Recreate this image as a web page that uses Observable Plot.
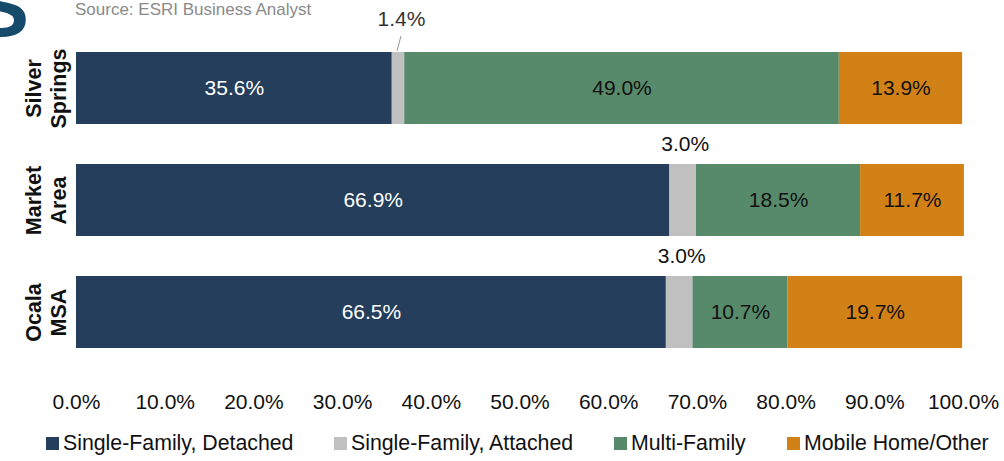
<!DOCTYPE html>
<html>
<head>
<meta charset="utf-8">
<script src="https://cdn.jsdelivr.net/npm/d3@7"></script>
<script src="https://cdn.jsdelivr.net/npm/@observablehq/plot@0.6"></script>
<style>
  html, body { margin: 0; padding: 0; background: #fff; }
  #wrap { position: relative; width: 1004px; height: 461px; overflow: hidden; font-family: "Liberation Sans", Arial, sans-serif; }
  #bigS { position: absolute; left: -27px; top: -35px; font-size: 84px; font-weight: bold; color: #154a6b; line-height: 1; }
  #source { position: absolute; left: 75px; top: 0px; font-size: 17px; color: #8a8a8a; line-height: 20px; }
  #legend { position: relative; height: 36px; font-size: 21.3px; color: #111; }
  .item { position: absolute; top: 0; height: 36px; display: flex; align-items: center; white-space: nowrap; }
  .item:nth-child(1) { left: 46px; }
  .item:nth-child(2) { left: 334px; }
  .item:nth-child(3) { left: 614px; }
  .item:nth-child(4) { left: 787px; }
  .sw { width: 13px; height: 13px; margin-right: 4px; display: inline-block; }
</style>
</head>
<body>
<div id="wrap">
  <div id="chart"></div>
  <div id="legend"></div>
  <div id="bigS">S</div>
  <div id="source">Source: ESRI Business Analyst</div>
</div>
<script>
// ---- Data ----
const categories = ["Silver Springs", "Market Area", "Ocala MSA"];
const categoryLabels = ["Silver\nSprings", "Market\nArea", "Ocala\nMSA"];
const types = ["Single-Family, Detached", "Single-Family, Attached", "Multi-Family", "Mobile Home/Other"];
const colors = ["#243e5b", "#c0c0c0", "#57896b", "#d18116"];
const detached = [35.6, 66.9, 66.5];
const attached = [1.4, 3.0, 3.0];
const multiFamily = [49.0, 18.5, 10.7];
const mobileOther = [13.9, 11.7, 19.7];
const xTicks = [0, 10, 20, 30, 40, 50, 60, 70, 80, 90, 100];

const series = [detached, attached, multiFamily, mobileOther];
const data = [];
categories.forEach((c, i) => {
  types.forEach((t, j) => data.push({cat: c, type: t, value: series[j][i]}));
});
const fmt = v => v.toFixed(1) + "%";
const labelOf = Object.fromEntries(categories.map((c, i) => [c, categoryLabels[i]]));

const stackOpts = (text) => Plot.stackX({x: "value", y: "cat", z: "type", order: types, text});

const plot = Plot.plot({
  width: 1004,
  height: 425,
  marginLeft: 76,
  marginRight: 41,
  marginTop: 40,
  marginBottom: 35,
  style: {fontFamily: "'Liberation Sans', Arial, sans-serif", fontSize: "21px", color: "#111", background: "transparent"},
  x: {domain: [0, 100], axis: null},
  y: {type: "band", domain: categories, range: [39.75, 359.25], paddingInner: 0.36, paddingOuter: 0.1, axis: null},
  color: {domain: types, range: colors},
  marks: [
    Plot.barX(data, {x: "value", y: "cat", fill: "type", order: types}),
    // inside labels
    Plot.text(data, {...stackOpts(d => d.type === types[0] ? fmt(d.value) : ""), fill: "white", fontSize: 21}),
    Plot.text(data, {...stackOpts(d => (d.type === types[2] || d.type === types[3]) ? fmt(d.value) : ""), fill: "#111", fontSize: 21}),
    // outside labels for small segments
    Plot.text(data, {...stackOpts(d => d.type === types[1] && d.value >= 2 ? fmt(d.value) : ""), fill: "#111", fontSize: 21, dy: -56, dx: 2}),
    Plot.text(data, {...stackOpts(d => d.type === types[1] && d.value < 2 ? fmt(d.value) : ""), fill: "#333", fontSize: 21, dy: -69, dx: 3}),
    // category labels
    Plot.text(categories, {y: d => d, text: d => labelOf[d], frameAnchor: "left", dx: -31, rotate: -90, textAnchor: "middle", lineAnchor: "middle", lineHeight: 1.18, fontWeight: "bold", fontSize: 21.5, fill: "#111"}),
    Plot.axisX({ticks: xTicks, tickFormat: fmt, tickSize: 0, tickPadding: 4, fontSize: 21, anchor: "bottom", color: "#111", label: null})
  ]
});
document.getElementById("chart").appendChild(plot);

// leader line for the small outside label, positioned through the plot's scales
const xs = plot.scale("x"), ys = plot.scale("y");
const svg = d3.select(plot);
categories.forEach((c, i) => {
  if (attached[i] < 2) {
    const mid = detached[i] + attached[i] / 2;
    const px = xs.apply(mid);
    const top = ys.apply(c);
    svg.append("line")
      .attr("x1", px - 1).attr("y1", top - 1)
      .attr("x2", px + 3).attr("y2", top - 16)
      .attr("stroke", "#9a9a9a").attr("stroke-width", 1);
  }
});

// legend
const legend = d3.select("#legend");
types.forEach((t, j) => {
  const it = legend.append("div").attr("class", "item");
  it.append("span").attr("class", "sw").style("background", colors[j]);
  it.append("span").text(t);
});
</script>
</body>
</html>
